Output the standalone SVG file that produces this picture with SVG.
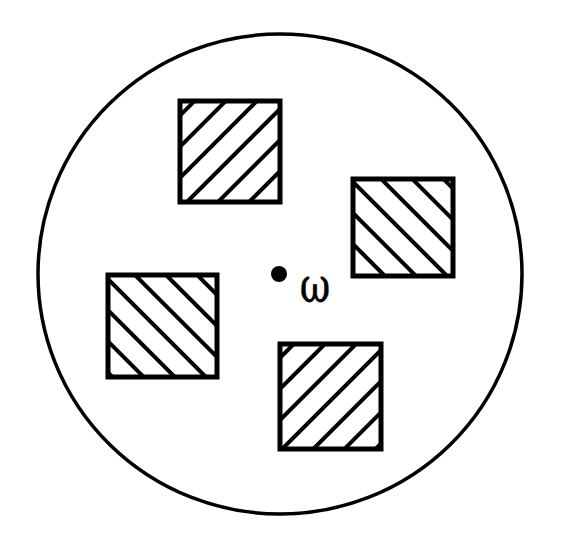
<svg xmlns="http://www.w3.org/2000/svg" width="564" height="538" viewBox="0 0 564 538">
<style>
.box{stroke:#000;stroke-width:5;stroke-linejoin:miter}
.fwd{fill:url(#hatchF)}
.bwd{fill:url(#hatchB)}
</style>
<defs>
<pattern id="hatchF" patternUnits="userSpaceOnUse" width="22" height="22" patternTransform="rotate(45)">
<line x1="11" y1="-2" x2="11" y2="24" stroke="#000" stroke-width="4"/>
</pattern>
<pattern id="hatchB" patternUnits="userSpaceOnUse" width="22" height="22" patternTransform="rotate(-45)">
<line x1="11" y1="-2" x2="11" y2="24" stroke="#000" stroke-width="4"/>
</pattern>
</defs>
<rect width="564" height="538" fill="#fff"/>
<g id="disk">
<ellipse cx="280" cy="274" rx="242" ry="240" fill="none" stroke="#000" stroke-width="3.5"/>
</g>
<g id="square-top">
<rect class="box fwd" x="180" y="101" width="100" height="101"/>
</g>
<g id="square-right">
<rect class="box bwd" x="353" y="179" width="100" height="97"/>
</g>
<g id="square-left">
<rect class="box bwd" x="108" y="275" width="109" height="102"/>
</g>
<g id="square-bottom">
<rect class="box fwd" x="280" y="344" width="101" height="105"/>
</g>
<g id="center">
<circle cx="279" cy="274" r="8" fill="#000"/>
<text x="300" y="302" font-family="DejaVu Serif, serif" font-size="48" textLength="30" lengthAdjust="spacingAndGlyphs" fill="#000" stroke="#000" stroke-width="0.8">ω</text>
</g>
</svg>
